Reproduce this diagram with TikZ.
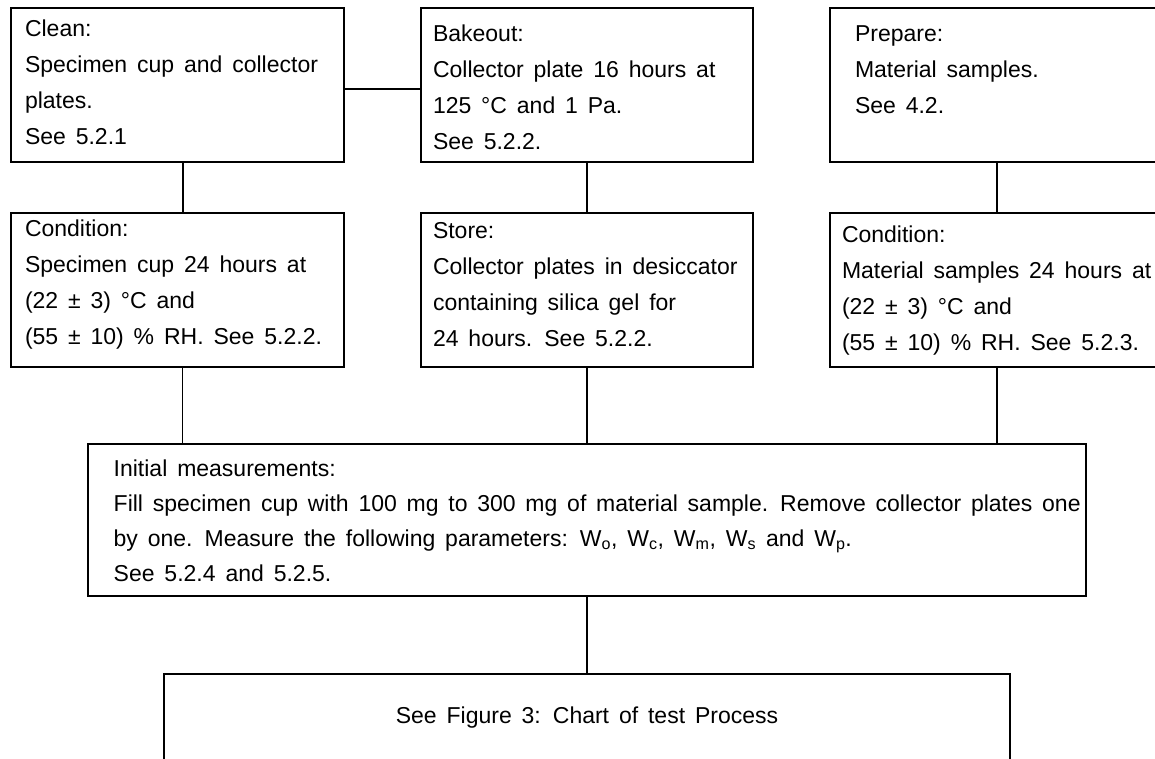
\documentclass[tikz,border=0pt]{standalone}
\usepackage{fontspec}
\setmainfont{Liberation Sans}
\usepackage{tikz}

% width, height, left pad, top pad, text
\newcommand{\steptext}[5]{\parbox[t][#2][t]{#1}{\vspace*{#4}\raggedright\leftskip=#3\relax #5}}

\tikzset{
  stepbox/.style={draw, line width=2pt, anchor=north west, inner sep=0pt,
    font={\fontsize{23}{36}\selectfont\spaceskip=0.43em plus 0.1em minus 0.2em}},
  link/.style={line width=2pt},
  thinlink/.style={line width=1.6pt},
}

\begin{document}
\begin{tikzpicture}[x=1pt, y=-1pt]
\useasboundingbox (0,0) rectangle (1155,758);
\clip (0,0) rectangle (1155,758);
% row 1
\node [stepbox] (clean) at (10,7) {\steptext{333pt}{154pt}{14pt}{12pt}{Clean:\\Specimen cup and collector\\plates.\\See 5.2.1}};
\node [stepbox] (bake) at (420,7) {\steptext{332pt}{154pt}{12pt}{16.5pt}{Bakeout:\\Collector plate 16 hours at\\125 °C and 1 Pa.\\See 5.2.2.}};
\node [stepbox] (prep) at (829,7) {\steptext{334pt}{154pt}{25pt}{18pt}{Prepare:\\Material samples.\\See 4.2.}};
% row 2
\node [stepbox] (cond1) at (10,212) {\steptext{333pt}{154pt}{14pt}{7pt}{Condition:\\Specimen cup 24 hours at\\(22 ± 3) °C and\\(55 ± 10) \% RH. See 5.2.2.}};
\node [stepbox] (store) at (420,212) {\steptext{332pt}{154pt}{12pt}{9.5pt}{Store:\\Collector plates in desiccator\\containing silica gel for\\24 hours. See 5.2.2.}};
\node [stepbox] (cond2) at (829,212) {\steptext{334pt}{154pt}{12pt}{13pt}{Condition:\\Material samples 24 hours at\\(22 ± 3) °C and\\(55 ± 10) \% RH. See 5.2.3.}};
% measurements
\node [stepbox] (init) at (86.7,443) {\steptext{998pt}{152pt}{26pt}{15.5pt}{\baselineskip=35pt Initial measurements:\\
  \makebox[967pt][s]{Fill specimen cup with 100 mg to 300 mg of material sample. Remove collector plates one}\\
  by one. Measure the following parameters: W\textsubscript{o}, W\textsubscript{c}, W\textsubscript{m}, W\textsubscript{s} and W\textsubscript{p}.\\
  See 5.2.4 and 5.2.5.}};
\node [stepbox] (final) at (163,673) {\parbox[t][120pt][t]{846pt}{\vspace*{32.5pt}\centering See Figure 3: Chart of test Process}};

\draw [link] ([yshift=-4pt]clean.east) -- ([yshift=-4pt]bake.west);
\draw [link] ([xshift=5pt]clean.south) -- ([xshift=5pt]cond1.north);
\draw [link] (bake.south) -- (bake.south |- store.north);
\draw [link] (prep.south) -- (prep.south |- cond2.north);
\draw [thinlink] ([xshift=5pt]cond1.south) -- ([xshift=5pt]cond1.south |- init.north);
\draw [thinlink] (store.south) -- (store.south |- init.north);
\draw [thinlink] (cond2.south) -- (cond2.south |- init.north);
\draw [thinlink] (final.north |- init.south) -- (final.north);
\end{tikzpicture}
\end{document}
